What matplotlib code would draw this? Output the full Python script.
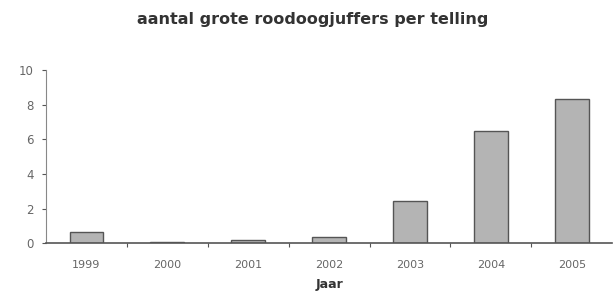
import matplotlib.pyplot as plt
import numpy as np

jaren = ["1999", "2000", "2001", "2002", "2003", "2004", "2005"]
aantal = [0.65, 0.07, 0.2, 0.37, 2.45, 6.5, 8.35]
yticks = [0, 2, 4, 6, 8, 10]

fig = plt.figure(figsize=(6.14, 3.02), dpi=100)
ax = fig.add_axes([0.075, 0.195, 0.922, 0.573])

x = np.arange(len(jaren))
ax.bar(x, aantal, width=0.42, color="#b4b4b4", edgecolor="#555555", linewidth=1.0)

ax.set_xlim(-0.5, len(jaren) - 0.5)
ax.set_ylim(0, 10)
ax.set_yticks(yticks)
ax.set_yticklabels([str(t) for t in yticks])

# category ticks sit between the bars, labels in the middle
ax.set_xticks(np.arange(0.5, len(jaren) - 0.5), minor=False)
ax.set_xticklabels([])
ax.set_xticks(x, minor=True)
ax.set_xticklabels(jaren, minor=True)
ax.tick_params(axis="x", which="minor", length=0, pad=12, labelsize=8, labelcolor="#666666")
ax.tick_params(axis="x", which="major", length=3, color="#555555", direction="out")
ax.tick_params(axis="y", length=3, color="#555555", labelsize=8.5, labelcolor="#666666", pad=6)

for s in ["top", "right"]:
    ax.spines[s].set_visible(False)
ax.spines["left"].set_color("#888888")
ax.spines["bottom"].set_color("#555555")
ax.spines["bottom"].set_linewidth(1.2)

ax.set_xlabel("Jaar", fontsize=9, fontweight="bold", color="#333333", labelpad=6)
fig.text(0.51, 0.935, "aantal grote roodoogjuffers per telling", ha="center", va="center",
         fontsize=11.5, fontweight="bold", color="#333333")

plt.savefig("out.png", dpi=100)
